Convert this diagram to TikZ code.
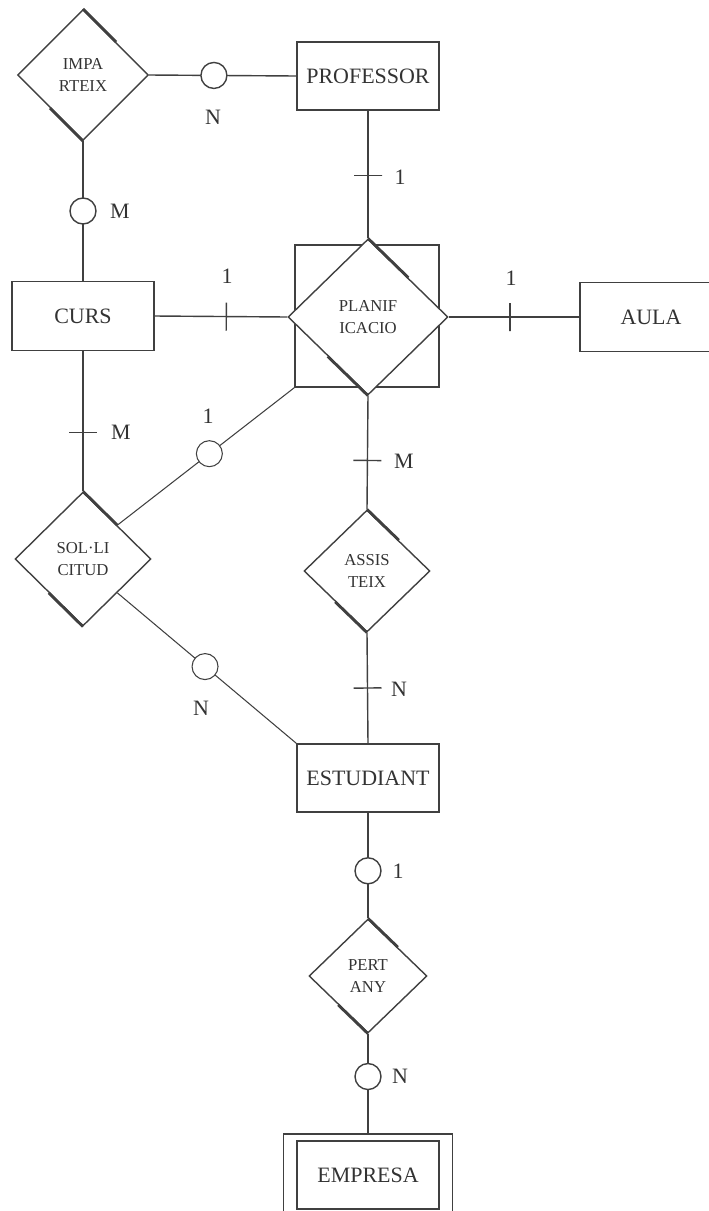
\documentclass[tikz,border=0pt]{standalone}
\usepackage{fontspec}
\setmainfont{Liberation Serif}
\usetikzlibrary{shapes.geometric}

\begin{document}
\begin{tikzpicture}[x=0.02cm, y=-0.02cm, % 1 unité = 1 pixel, y vers le bas
  every node/.style={text=black!80},
  entitat/.style={draw, rectangle, minimum width=2.84cm, minimum height=1.36cm, inner sep=0pt, font=\fontsize{12.5}{14}\selectfont},
  relacio/.style={draw, diamond, inner sep=0pt, align=center, font=\fontsize{9.5}{13}\selectfont},
  cercle/.style={draw, circle, fill=white, minimum size=0.52cm, inner sep=0pt},
  trait/.style={draw, sloped, minimum height=0.56cm, minimum width=0pt, inner sep=0pt},
  card/.style={font=\fontsize{12.5}{14}\selectfont}]
  \clip (0,0) rectangle (709,1211);
  \tikzset{every path/.style={draw=black!75, line width=0.8pt}}

  % Entités
  \node[entitat] (prof) at (368,76) {PROFESSOR};
  \node[entitat, minimum height=1.38cm] (curs) at (83,316) {CURS};
  \node[entitat, minimum height=1.38cm] (aula) at (651,317) {AULA};
  \node[entitat] (est) at (368,778) {ESTUDIANT};
  \node[entitat] (emp) at (368,1175) {EMPRESA};
  \node[draw, rectangle, minimum width=3.38cm, minimum height=1.68cm] (empext) at (368,1176) {};

  % Relations
  \node[relacio, minimum width=2.62cm, minimum height=2.62cm] (imp) at (83,75) {IMPA\\RTEIX};
  \node[draw, rectangle, minimum width=2.88cm, minimum height=2.84cm] (planq) at (367,316) {};
  \node[relacio, fill=white, minimum width=3.2cm, minimum height=3.12cm] (plan) at (368,317) {PLANIF\\ICACIO};
  \node[relacio, minimum width=2.72cm, minimum height=2.68cm] (sol) at (83,559) {SOL·LI\\CITUD};
  \node[relacio, minimum width=2.52cm, minimum height=2.44cm] (ass) at (367,571) {ASSIS\\TEIX};
  \node[relacio, minimum width=2.36cm, minimum height=2.28cm] (pert) at (368,976) {PERT\\ANY};

  % Ombres des losanges
  \foreach \r in {imp,plan,sol,ass,pert} {
    \draw[line width=1.6pt] (\r.north) -- (\r.north east);
    \draw[line width=1.6pt] (\r.south) -- (\r.south west);
  }

  % Connecteurs
  \draw (imp.east) -- node[cercle, pos=0.44] (c1) {} (prof.west);
  \draw (prof.south) -- node[trait, pos=0.51] (t1) {} (plan.north);
  \draw (imp.south) -- node[cercle, pos=0.5] (c2) {} (curs.north);
  \draw (curs.east) -- node[trait, pos=0.54] (t2) {} (plan.west);
  \draw (plan.east) -- node[trait, pos=0.47] (t3) {} (aula.west);
  \draw (curs.south) -- node[trait, pos=0.58] (t4) {} (sol.north);
  \draw[line width=0.6pt] (sol.north east) -- node[cercle, pos=0.52] (c3) {} (planq.south west);
  \draw (plan.south) -- node[trait, pos=0.57] (t5) {} (ass.north);
  \draw (ass.south) -- node[trait, pos=0.5] (t6) {} (est.north);
  \draw[line width=0.6pt] (sol.south east) -- node[cercle, pos=0.49] (c4) {} (est.north west);
  \draw (est.south) -- node[cercle, pos=0.55] (c5) {} (pert.north);
  \draw (pert.south) -- node[cercle, pos=0.43] (c6) {} (empext.north);

  % Cardinalités
  \node[card] (n1) at (213,117) {N};
  \node[card] (u1) at (400,177) {1};
  \node[card] (m1) at (120,211) {M};
  \node[card] (u2) at (227,276) {1};
  \node[card] (u3) at (511,278) {1};
  \node[card] (m2) at (121,432) {M};
  \node[card] (u4) at (208,416) {1};
  \node[card] (m3) at (404,461) {M};
  \node[card] (n2) at (399,689) {N};
  \node[card] (n3) at (201,708) {N};
  \node[card] (u5) at (398,871) {1};
  \node[card] (n4) at (400,1076) {N};
\end{tikzpicture}
\end{document}
